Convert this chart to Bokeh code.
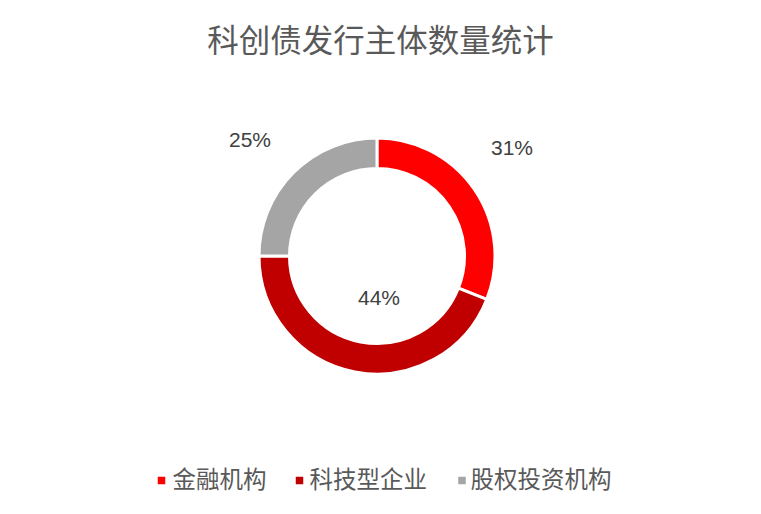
import math
from bokeh.plotting import figure
from bokeh.models import Range1d, ColumnDataSource
from bokeh.core.properties import value
from bokeh.embed import file_html
from bokeh.resources import INLINE

title_text = "科创债发行主体数量统计"
categories = ["金融机构", "科技型企业", "股权投资机构"]
shares = [31, 44, 25]
colors = ["#FF0000", "#C00000", "#A5A5A5"]

W, H = 745, 498
p = figure(width=W, height=H, output_backend="svg", toolbar_location=None,
           x_range=Range1d(0, W), y_range=Range1d(0, H), min_border=0)
p.axis.visible = False
p.grid.visible = False
p.outline_line_color = None
p.background_fill_color = "white"
p.border_fill_color = "white"

total = sum(shares)
starts, ends = [], []
cum = 0
for s in shares:
    starts.append(math.pi / 2 - 2 * math.pi * cum / total)
    cum += s
    ends.append(math.pi / 2 - 2 * math.pi * cum / total)

cx, cy = 376.5, 242.5
src = ColumnDataSource(dict(start=starts, end=ends, color=colors,
                            x=[cx] * 3, y=[cy] * 3))
p.annular_wedge(x="x", y="y", inner_radius=87.5, outer_radius=118,
                inner_radius_units="screen", outer_radius_units="screen",
                start_angle="start", end_angle="end", direction="clock",
                fill_color="color", line_color="white", line_width=3, source=src)

# title
p.text(x=[380], y=[461], text=[title_text], text_font=value("Noto Sans CJK SC"),
       text_font_size="31.5px", text_color="#595959", text_align="center",
       text_baseline="middle")

# data labels
lx = [511.5, 378.5, 249.5]
ly = [351.5, 201.5, 359.5]
labels = [f"{round(100 * s / total)}%" for s in shares]
p.text(x=lx, y=ly, text=labels, text_font=value("Liberation Sans"),
       text_font_size="21px", text_color="#404040", text_align="center",
       text_baseline="middle")

# legend
sq_x = [161, 299, 461.5]
tx = [172, 309, 470]
p.scatter(x=sq_x, y=[18] * 3, marker="square", size=7.5, fill_color=colors,
          line_color=None)
p.text(x=tx, y=[20.5] * 3, text=categories, text_font=value("Noto Sans CJK SC"),
       text_font_size="23.5px", text_color="#595959", text_align="left",
       text_baseline="middle")

open("out.html", "w").write(file_html(p, INLINE))
